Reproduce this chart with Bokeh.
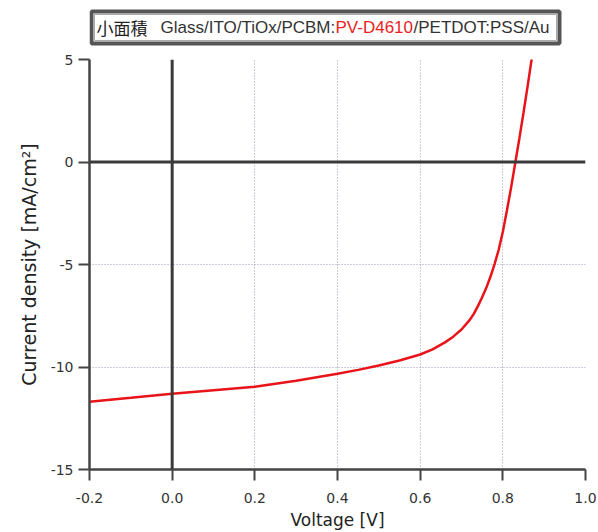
from bokeh.plotting import figure
from bokeh.models import Range1d, FixedTicker, NumeralTickFormatter, Span, Label
from bokeh.layouts import column
from bokeh.embed import file_html
from bokeh.resources import INLINE

# ---- data ----
voltage = [-0.2, -0.1, 0.0, 0.1, 0.2, 0.3, 0.4, 0.45, 0.5, 0.55, 0.6, 0.63, 0.66,
           0.68, 0.70, 0.72, 0.73, 0.74, 0.75, 0.76, 0.77, 0.78, 0.79, 0.80,
           0.81, 0.82, 0.83, 0.84, 0.85, 0.86, 0.87]
current_density = [-11.69, -11.50, -11.30, -11.13, -10.96, -10.67, -10.33, -10.14,
                   -9.93, -9.68, -9.39, -9.14, -8.80, -8.52, -8.17, -7.70, -7.40,
                   -7.02, -6.60, -6.14, -5.60, -4.98, -4.28, -3.40, -2.35, -1.25,
                   -0.05, 1.15, 2.40, 3.70, 5.05]
x_ticks = [-0.2, 0.0, 0.2, 0.4, 0.6, 0.8, 1.0]
y_ticks = [-15, -10, -5, 0, 5]
title_prefix = "小面積"
title_part1 = "Glass/ITO/TiOx/PCBM:"
title_part2 = "PV-D4610"
title_part3 = "/PETDOT:PSS/Au"

LEFT, RIGHT = 89, 13  # shared border widths (the column aligns both frames)

# ---- title strip (its frame is aligned to the main frame: data x == canvas px) ----
t = figure(width=598, height=50, x_range=Range1d(LEFT, 598 - RIGHT), y_range=Range1d(50, 0),
           x_axis_type=None, y_axis_type=None,
           output_backend="svg", toolbar_location=None,
           min_border_left=LEFT, min_border_right=RIGHT,
           min_border_top=0, min_border_bottom=0)
t.grid.visible = False
t.outline_line_color = None
t.quad(left=[91], right=[559], top=[11], bottom=[43], fill_color="white",
       line_color="#555555", line_width=4)
t.quad(left=[94], right=[556], top=[14], bottom=[40], fill_color=None,
       line_color="#aaaaaa", line_width=1)
common = dict(y=27, text_baseline="middle", text_font_size="17px")
t.add_layout(Label(x=96, text=title_prefix, text_font="Noto Sans CJK JP",
                   text_color="#222222", **common))
t.add_layout(Label(x=160, text=title_part1, text_font="Liberation Sans",
                   text_color="#333333", **common))
t.add_layout(Label(x=335, text=title_part2, text_font="Liberation Sans",
                   text_color="#e8231e", **common))
t.add_layout(Label(x=413, text=title_part3, text_font="Liberation Sans",
                   text_color="#333333", **common))

# ---- main plot ----
p = figure(width=598, height=482, x_range=Range1d(-0.2, 1.0), y_range=Range1d(-15, 5),
           output_backend="svg", toolbar_location=None,
           min_border_left=LEFT, min_border_right=RIGHT, min_border_top=9, min_border_bottom=63)
p.outline_line_color = None

p.xaxis.ticker = FixedTicker(ticks=x_ticks)
p.yaxis.ticker = FixedTicker(ticks=y_ticks)
p.xaxis.formatter = NumeralTickFormatter(format="0.0")
p.yaxis.formatter = NumeralTickFormatter(format="0")
p.xaxis.axis_label = "Voltage [V]"
p.yaxis.axis_label = "Current density [mA/cm²]"

for ax in (p.xaxis, p.yaxis):
    ax.axis_line_color = "#444444"
    ax.axis_line_width = 2.5
    ax.major_tick_line_color = "#444444"
    ax.major_tick_line_width = 2
    ax.major_tick_out = 11
    ax.major_tick_in = 0
    ax.minor_tick_out = 0
    ax.minor_tick_in = 0
    ax.major_label_text_font = "DejaVu Sans"
    ax.major_label_text_font_size = "14px"
    ax.major_label_text_color = "#333333"
    ax.axis_label_text_font = "DejaVu Sans"
    ax.axis_label_text_font_style = "normal"
    ax.axis_label_text_color = "#222222"
p.xaxis.axis_label_text_font_size = "17px"
p.yaxis.axis_label_text_font_size = "19px"
p.xaxis.major_label_standoff = 12
p.yaxis.major_label_standoff = 5
p.xaxis.axis_label_standoff = 4
p.yaxis.axis_label_standoff = 8

for g in (p.xgrid, p.ygrid):
    g.grid_line_color = "#9a9ab8"
    g.grid_line_dash = "1 2"
    g.grid_line_width = 1

p.add_layout(Span(location=0, dimension="width", line_color="#3a3a3a", line_width=3))
p.add_layout(Span(location=0, dimension="height", line_color="#3a3a3a", line_width=3))

p.line(voltage, current_density, line_color="#e8141a", line_width=2.5)

layout = column(t, p, spacing=0)
open("out.html", "w").write(file_html(layout, INLINE))
